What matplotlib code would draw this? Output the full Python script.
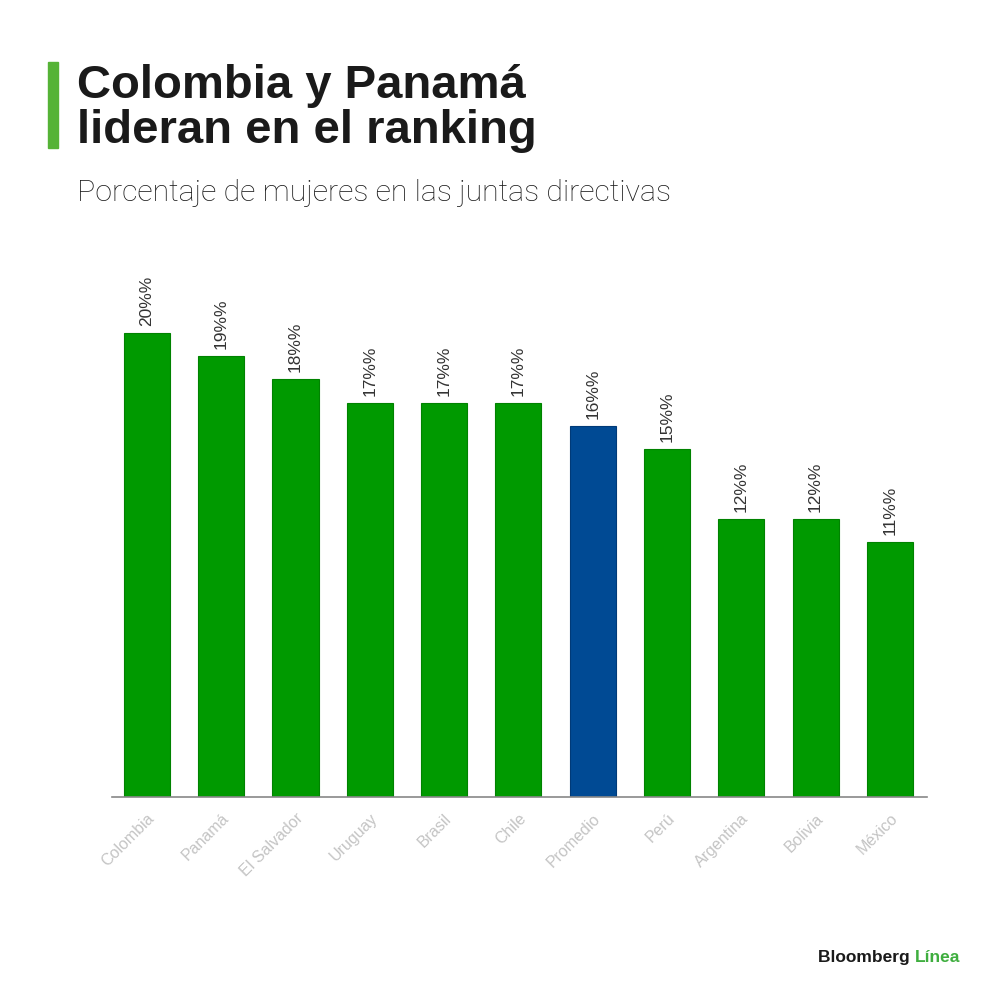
import matplotlib
matplotlib.use("Agg")
import matplotlib.pyplot as plt
from matplotlib.patches import Rectangle

categories = ["Colombia", "Panamá", "El Salvador", "Uruguay", "Brasil", "Chile",
              "Promedio", "Perú", "Argentina", "Bolivia", "México"]
values = [20, 19, 18, 17, 17, 17, 16, 15, 12, 12, 11]
labels = ["20%%", "19%%", "18%%", "17%%", "17%%", "17%%", "16%%", "15%%", "12%%", "12%%", "11%%"]
highlight = "Promedio"

GREEN = "#009a00"
BLUE = "#004a94"

W, H = 1000, 1000
fig = plt.figure(figsize=(10, 10), dpi=100)
fig.patch.set_facecolor("white")

# axes: left 112, right 927, bottom 797, top 260 (pixels)
ax = fig.add_axes([112 / W, 1 - 797 / H, (927 - 112) / W, (797 - 260) / H])
colors = [BLUE if c == highlight else GREEN for c in categories]
edges = ["#003a78" if c == highlight else "#008200" for c in categories]
x = list(range(len(categories)))
bars = ax.bar(x, values, width=0.62, color=colors, edgecolor=edges, linewidth=0.8, zorder=2)
ax.set_xlim(-0.47, 10.5)
ax.set_ylim(0, (797 - 260) / 23.2)

for b, lab in zip(bars, labels):
    ax.annotate(lab, (b.get_x() + b.get_width() / 2, b.get_height()),
                xytext=(0, 5), textcoords="offset points", rotation=90,
                ha="center", va="bottom", fontsize=12.5, color="#333333",
                family="Liberation Sans")

for s in ["top", "right", "left"]:
    ax.spines[s].set_visible(False)
ax.spines["bottom"].set_color("#888888")
ax.spines["bottom"].set_linewidth(1.2)
ax.set_yticks([])
ax.set_xticks(x)
ax.set_xticklabels(categories, rotation=45, ha="right", rotation_mode="anchor",
                   fontsize=11.5, color="#c4c4c4", family="Liberation Sans")
ax.tick_params(axis="x", length=0, pad=10)

# Title block
fig.add_artist(Rectangle((48 / W, 1 - 148 / H), 10 / W, 86 / H,
                         transform=fig.transFigure, color="#55b336"))
fig.text(77 / W, 1 - 98 / H, "Colombia y Panamá", fontsize=34, fontweight="bold",
         color="#1a1a1a", family="Liberation Sans", ha="left", va="baseline")
fig.text(77 / W, 1 - 143 / H, "lideran en el ranking", fontsize=34, fontweight="bold",
         color="#1a1a1a", family="Liberation Sans", ha="left", va="baseline")
fig.text(77 / W, 1 - 201 / H, "Porcentaje de mujeres en las juntas directivas",
         fontsize=21.8, fontweight="light", color="#1a1a1a", family="Roboto",
         ha="left", va="baseline")

# Logo
t = fig.text(818 / W, 1 - 962 / H, "Bloomberg ", fontsize=12.5, fontweight="bold",
             color="#1a1a1a", family="Liberation Sans", ha="left", va="baseline")
fig.canvas.draw()
bb = t.get_window_extent()
fig.text(bb.x1 / W, 1 - 962 / H, "Línea", fontsize=12.5, fontweight="bold",
         color="#3fae3f", family="Liberation Sans", ha="left", va="baseline")

fig.savefig("out.png", dpi=100, facecolor="white")
